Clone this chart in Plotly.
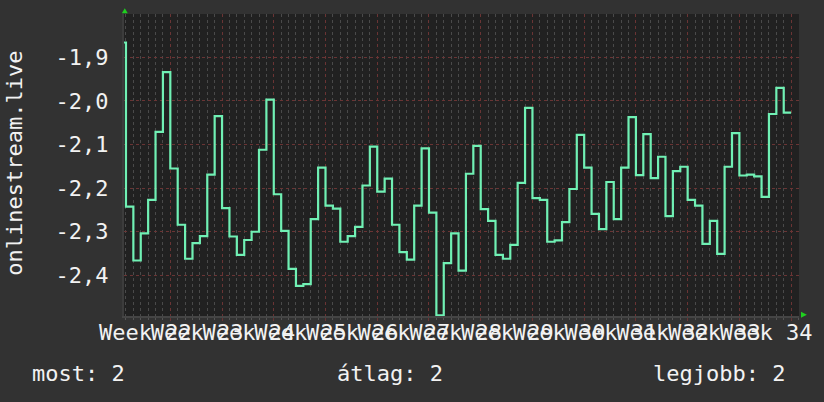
import plotly.graph_objects as go

# ---- data ----
day_start = list(range(-7, 84))  # day index, 0 = start of the "Week 22" grid line
values = [
    -1.866, -2.2425, -2.366, -2.304, -2.227, -2.071, -1.934,
    -2.155, -2.284, -2.362, -2.326, -2.310, -2.169, -2.035,
    -2.246, -2.311, -2.353, -2.319, -2.300, -2.112, -1.997,
    -2.214, -2.298, -2.385, -2.424, -2.420, -2.271, -2.153,
    -2.240, -2.247, -2.323, -2.310, -2.289, -2.194, -2.105,
    -2.208, -2.178, -2.284, -2.347, -2.364, -2.240, -2.109,
    -2.256, -2.492, -2.372, -2.304, -2.389, -2.167, -2.103,
    -2.248, -2.275, -2.353, -2.362, -2.330, -2.188, -2.016,
    -2.223, -2.227, -2.323, -2.320, -2.278, -2.202, -2.078,
    -2.153, -2.259, -2.294, -2.186, -2.271, -2.153, -2.037,
    -2.170, -2.076, -2.177, -2.128, -2.264, -2.161, -2.151,
    -2.227, -2.240, -2.328, -2.275, -2.351, -2.151, -2.074,
    -2.171, -2.169, -2.173, -2.220, -2.030, -1.970, -2.027,
]
end_day = 84

week_ticks = [0, 7, 14, 21, 28, 35, 42, 49, 56, 63, 70, 77, 84]
week_labels = ["Week 22", "Week 23", "Week 24", "Week 25", "Week 26", "Week 27",
               "Week 28", "Week 29", "Week 30", "Week 31", "Week 32", "Week 33", "Week 34"]
y_ticks = [-2.4, -2.3, -2.2, -2.1, -2.0, -1.9]
y_labels = ["-2,4", "-2,3", "-2,2", "-2,1", "-2,0", "-1,9"]

y_title = "onlinestream.live"
legend_items = ["most: 2", "átlag: 2", "legjobb: 2"]

# ---- layout geometry ----
W, H = 824, 402
L, R, T, B = 124, 15, 14, 86
PW, PH = W - L - R, H - T - B


def px(xp):
    return (xp - L) / PW


def py(yp):
    return (H - B - yp) / PH


FONT = "DejaVu Sans Mono"
TXT = "#f2f2f2"
MAJOR = "#6a3434"
MINOR = "#4a4a4a"
BG = "#323232"

x = day_start + [end_day]
y = values + [values[-1]]

fig = go.Figure(go.Scatter(
    x=x, y=y, mode="lines",
    line=dict(color="#70f0b4", width=2.2, shape="hv"),
    hoverinfo="skip",
))

annotations = [
    dict(text=y_title, textangle=-90, x=px(12), y=py(163), xref="paper", yref="paper",
         xanchor="center", yanchor="middle", showarrow=False,
         font=dict(family=FONT, size=22, color=TXT)),
]
for txt, lx in zip(legend_items, [29, 338, 659]):
    annotations.append(dict(text=txt, x=px(lx), y=py(373), xref="paper", yref="paper",
                            xanchor="left", yanchor="middle", showarrow=False,
                            font=dict(family=FONT, size=22, color=TXT)))


def tri(pts):
    p = " L ".join(f"{px(a):.5f},{py(b):.5f}" for a, b in pts)
    return f"M {p} Z"


shapes = [
    dict(type="path", xref="paper", yref="paper", path=tri([(121.8, 13.2), (127.8, 13.2), (124.8, 8.3)]),
         fillcolor="#1fd01f", line=dict(width=0)),
    dict(type="path", xref="paper", yref="paper", path=tri([(811, 311.8), (811, 317.8), (817, 314.8)]),
         fillcolor="#1fd01f", line=dict(width=0)),
]

fig.update_layout(
    width=W, height=H,
    margin=dict(l=L, r=R, t=T, b=B, pad=0),
    paper_bgcolor=BG,
    plot_bgcolor="#212121",
    font=dict(family=FONT, size=22, color=TXT),
    showlegend=False,
    annotations=annotations,
    shapes=shapes,
    xaxis=dict(
        range=[(L - 171) / 7.5, (W - R - 171) / 7.5],
        tickmode="array", tickvals=week_ticks, ticktext=week_labels,
        tickangle=0, ticks="outside", ticklen=3, tickcolor=MAJOR,
        ticklabelshift=-25, ticklabelstandoff=-7, ticklabeloverflow="allow",
        showgrid=True, gridcolor=MAJOR, griddash="dot", gridwidth=1,
        zeroline=False, showline=True, linecolor="#454545", linewidth=2,
        tickfont=dict(family=FONT, size=22, color=TXT),
        minor=dict(tickmode="linear", tick0=0, dtick=1, showgrid=True,
                   gridcolor=MINOR, griddash="dot", gridwidth=1,
                   ticks="outside", ticklen=2, tickcolor="#555555"),
        fixedrange=True,
    ),
    yaxis=dict(
        range=[-2.4933, -1.8006],
        tickmode="array", tickvals=y_ticks, ticktext=y_labels,
        ticks="", showgrid=True, gridcolor=MAJOR, griddash="dot", gridwidth=1,
        zeroline=False, showline=True, linecolor="#3c3c3c", linewidth=2,
        ticklabelstandoff=9,
        tickfont=dict(family=FONT, size=22, color=TXT),
        fixedrange=True,
    ),
)

fig.write_html(
    "out.html",
    config={"displayModeBar": False},
    post_script="document.body.style.margin='0';document.body.style.background='" + BG + "';"
                "document.body.style.overflow='hidden';",
)
